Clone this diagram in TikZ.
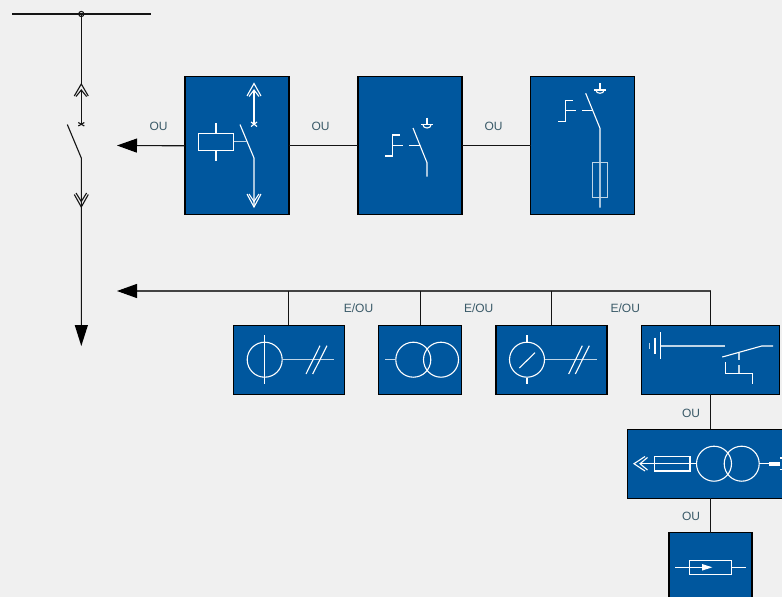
\documentclass[tikz,border=0pt]{standalone}
\usepackage{fontspec}
\setmainfont{Liberation Sans}
\usetikzlibrary{arrows.meta}
\definecolor{pagebg}{HTML}{F0F0F0}
\definecolor{panel}{HTML}{00579E}
\definecolor{labelc}{HTML}{3A5A68}
\definecolor{wire}{HTML}{141414}
\tikzset{
  panelbox/.style={draw=black,line width=1.2pt,fill=panel,inner sep=0pt,outer sep=0pt},
  sym/.style={draw=white,line width=1.1pt,line join=miter},
  symsoft/.style={draw=white!75!panel,line width=1.4pt},
  wireline/.style={draw=wire,line width=1.1pt},
  bigarrow/.style={wireline,-{Triangle[length=20pt,width=14pt,color=black]}},
  lbl/.style={text=labelc,font=\fontsize{12}{14}\selectfont,inner sep=0pt}
}
\begin{document}
\begin{tikzpicture}[x=1pt,y=-1pt]
\useasboundingbox (0,0) rectangle (782,597);
\fill[pagebg] (0,0) rectangle (782,597);
\clip (0,0) rectangle (782,597);
% panels
\node[panelbox,minimum width=104pt,minimum height=138pt] (b1) at (237,145.8) {};
\node[panelbox,minimum width=104pt,minimum height=138pt] (b2) at (410,145.8) {};
\node[panelbox,minimum width=104pt,minimum height=138pt] (b3) at (582.8,145.8) {};
\node[panelbox,minimum width=111pt,minimum height=69pt] (c1) at (288.6,359.8) {};
\node[panelbox,minimum width=83pt,minimum height=69pt] (c2) at (420.2,359.8) {};
\node[panelbox,minimum width=111pt,minimum height=69pt] (c3) at (551.4,359.8) {};
\node[panelbox,minimum width=138pt,minimum height=69pt] (c4) at (710.5,359.8) {};
\node[panelbox,minimum width=166pt,minimum height=69pt] (d1) at (710.5,463.6) {};
\node[panelbox,minimum width=83pt,minimum height=90pt] (d2) at (710.5,577.7) {};
% free ends
\coordinate (tipA) at (117,145.5);
\coordinate (tipB) at (117,291);
\coordinate (busE) at (710.5,291);
% connectors
\draw[bigarrow] (b1.west) -- (tipA);
\draw[wireline] (b1.east) -- (b2.west);
\draw[wireline] (b2.east) -- (b3.west);
\draw[bigarrow,draw=wire!80!white] (busE) -- (tipB);
\draw[wireline] (c1.north) -- (c1.north |- busE);
\draw[wireline] (c2.north) -- (c2.north |- busE);
\draw[wireline] (c3.north) -- (c3.north |- busE);
\draw[wireline] (c4.north) -- (busE);
\draw[wireline] (c4.south) -- (d1.north);
\draw[wireline] (d1.south) -- (d2.north);
% labels
\node[lbl] (l1) at (158.5,126) {OU};
\node[lbl] (l2) at (320.5,126) {OU};
\node[lbl] (l3) at (493.5,126) {OU};
\node[lbl] (l4) at (358.5,308) {E/OU};
\node[lbl] (l5) at (478.7,308) {E/OU};
\node[lbl] (l6) at (625.3,308) {E/OU};
\node[lbl] (l7) at (691,413) {OU};
\node[lbl] (l8) at (691,516.5) {OU};
% main single line
\draw[wireline] (12,14) -- (151,14);
\draw[wireline] (81.3,14) circle (2.6);
\draw[wireline] (81.3,14) -- (81.3,84);
\draw[wireline] (74.3,96) -- (81.3,84) -- (88.3,96);
\draw[wireline] (76,96.5) -- (81.3,90) -- (86.6,96.5);
\draw[wireline] (81.3,90) -- (81.3,124);
\draw[wireline] (78.3,122.5) -- (84.3,126);
\draw[wireline] (84.3,122.5) -- (78.3,126);
\draw[wireline] (67.3,124.5) -- (81.3,158) -- (81.3,325);
\draw[wireline] (74.3,194.5) -- (81.3,207) -- (88.3,194.5);
\draw[wireline] (76,193) -- (81.3,201.5) -- (86.6,193);
\fill[black] (74.7,325) -- (88,325) -- (81.3,346) -- cycle;
% b1 symbol
\draw[sym] (247,96) -- (254,83.5) -- (261,96);
\draw[sym] (249,96.5) -- (254,90) -- (259,96.5);
\draw[sym] (254,90) -- (254,124);
\draw[sym] (251,122) -- (257,126.5) (257,122) -- (251,126.5);
\draw[sym] (240,124.5) -- (254,158) -- (254,207);
\draw[sym] (247,194) -- (254,207) -- (261,194);
\draw[sym] (249,194) -- (254,201.5) -- (259,194);
\draw[sym] (198.7,133.3) rectangle (233.7,150.7);
\draw[sym] (216,123.3) -- (216,133.3) (216,150.7) -- (216,160.7);
\draw[symsoft] (233.7,141.7) -- (247,141.7);
% b2 symbol
\draw[sym] (413,128) -- (427,162.7) -- (427,176.7);
\draw[sym] (427,117.7) -- (427,124.5);
\draw[sym,line width=1.4pt] (421,124.7) -- (433,124.7);
\draw[sym] (423,125) arc[start angle=180,end angle=0,x radius=4,y radius=3];
\draw[sym] (385,156) -- (392.7,156) -- (392.7,135) -- (400,135);
\draw[sym] (392.7,145.7) -- (403.3,145.7);
\draw[sym] (409.3,145.7) -- (420,145.7);
% b3 symbol
\draw[sym] (585.7,93.3) -- (600,128.3) -- (600,207.7);
\draw[sym] (600,83.3) -- (600,90);
\draw[sym,line width=1.4pt] (594,90) -- (606,90);
\draw[sym] (596,90.3) arc[start angle=180,end angle=0,x radius=4,y radius=3];
\draw[sym] (558.3,121.3) -- (565.6,121.3) -- (565.6,100.3) -- (573,100.3);
\draw[sym] (565.6,110.7) -- (576,110.7);
\draw[sym] (582.3,110.7) -- (593.3,110.7);
\draw[symsoft,line width=1.1pt] (592.7,162.7) rectangle (607.3,197.7);
% c1 symbol
\draw[sym] (264.7,359.7) circle (17.5);
\draw[sym] (264.7,335) -- (264.7,384.3);
\draw[symsoft] (282.2,359.7) -- (334,359.7);
\draw[sym] (306,374) -- (320,345.7) (312.7,374) -- (327,345.7);
% c2 symbol
\draw[sym] (413.3,359.7) circle (17.5);
\draw[sym] (441,359.7) circle (17.5);
\draw[symsoft] (385,359.7) -- (395.8,359.7);
% c3 symbol
\draw[sym] (527,359.7) circle (17.5);
\draw[sym] (527,335) -- (527,342) (527,377.5) -- (527,384.3);
\draw[sym] (519.3,368) -- (535,352.7);
\draw[symsoft] (544.5,359.7) -- (596.7,359.7);
\draw[sym] (568.7,374) -- (582.3,345.7) (575.3,374) -- (589.3,345.7);
% c4 symbol
\draw[sym] (660.7,332.3) -- (660.7,359.3);
\draw[sym] (655,337.7) -- (655,354.3);
\draw[symsoft] (649.7,343) -- (649.7,349);
\draw[symsoft] (660.7,346) -- (725,346);
\draw[sym] (722.3,357) -- (761.7,346) -- (773,346);
\draw[symsoft,line width=1.1pt] (739,352.7) -- (739,360) (739,365) -- (739,373.3);
\draw[sym] (725.3,362.3) -- (725.3,373.3) -- (752.3,373.3) -- (752.3,383.7);
% d1 symbol
\draw[sym] (645,456.5) -- (634,463.7) -- (645,471);
\draw[sym] (647.5,457.5) -- (640,463.7) -- (647.5,470);
\draw[sym] (640,463.7) -- (696.3,463.7);
\draw[sym] (654.7,456.7) rectangle (690,471);
\draw[sym] (714,463.7) circle (17.5);
\draw[sym] (741.7,463.7) circle (17.5);
\draw[sym] (759.2,463.7) -- (769,463.7);
\fill[white] (769,461.5) rectangle (779.7,465.9);
\draw[sym] (782,458) -- (779.5,458) (782,469.5) -- (779.5,469.5);
% d2 symbol
\draw[sym] (675.3,567.3) -- (702,567.3);
\draw[sym] (731.3,567.3) -- (745.7,567.3);
\draw[sym] (689.7,560.3) rectangle (731.3,574.3);
\fill[white] (702,564) -- (712.3,567.3) -- (702,570.6) -- cycle;
\end{tikzpicture}
\end{document}
